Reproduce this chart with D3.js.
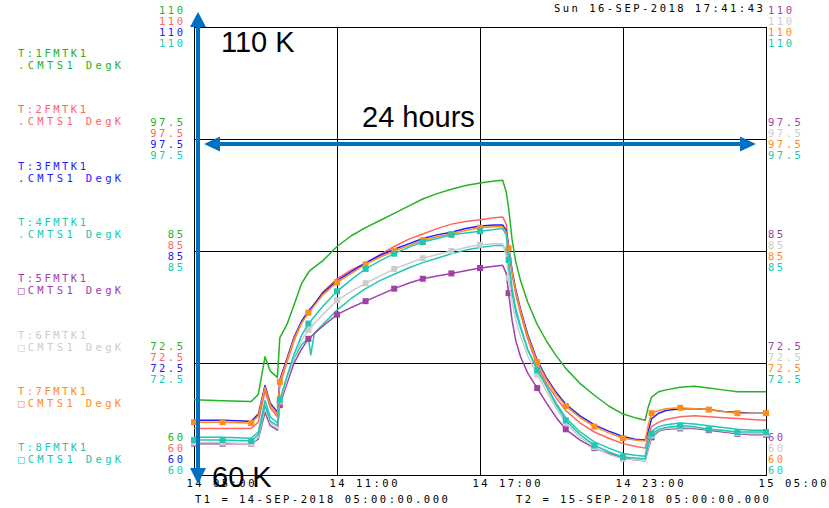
<!DOCTYPE html>
<html>
<head>
<meta charset="utf-8">
<script src="https://cdn.jsdelivr.net/npm/d3@7"></script>
<style>
  html, body { margin: 0; padding: 0; background: #fff; }
  svg { display: block; }
  .mono { font-family: "DejaVu Sans Mono", "Liberation Mono", monospace; font-size: 10.5px; }
  .note { font-family: "Liberation Sans", Arial, sans-serif; font-size: 29px; fill: #000; }
</style>
</head>
<body>
<svg id="chart" width="829" height="508"></svg>
<script>
// Sample times, hours after 14-SEP-2018 05:00
const hours = [0, 1.2, 2.4, 2.7, 2.98, 3.2, 3.5, 3.6, 3.9, 4.2, 4.5, 4.8, 4.9, 5.05, 5.4, 6.0, 6.6, 7.2, 7.8, 8.4,
  9.0, 9.6, 10.2, 10.8, 11.4, 12.0, 12.6, 12.95,
  13.1, 13.2, 13.35, 13.5, 13.7, 14.0, 14.4, 14.8, 15.2, 15.6, 16.2, 16.8, 17.4, 18.0, 18.5, 18.93,
  19.05, 19.2, 19.5, 19.8, 20.4, 21.0, 21.6, 22.2, 22.8, 23.4, 24.0];

// Channel temperatures, DegK
const ch1 = [68.4, 68.3, 68.2, 69.0, 73.2, 71.6, 70.9, 75.3, 76.8, 79.0, 81.3, 82.6, 82.9, 83.2, 83.9, 85.5, 86.7, 87.6, 88.4, 89.2,
  90.0, 90.8, 91.4, 91.9, 92.3, 92.6, 92.8, 92.9,
  91.6, 89.8, 86.2, 83.8, 81.7, 79.3, 76.8, 74.9, 73.3, 71.9, 70.2, 68.9, 67.7, 66.8, 66.4, 66.1,
  67.5, 68.7, 69.3, 69.5, 69.8, 69.9, 69.7, 69.5, 69.3, 69.3, 69.3];
const ch2 = [65.2, 65.2, 65.2, 65.9, 69.4, 67.5, 66.5, 70.0, 72.6, 75.0, 76.9, 78.2, 78.5, 79.0, 80.4, 81.9, 82.9, 83.6, 84.6, 85.5,
  86.3, 86.9, 87.5, 88.0, 88.3, 88.5, 88.7, 88.8,
  88.0, 85.5, 82.4, 80.2, 78.0, 75.2, 72.2, 70.2, 68.6, 67.2, 65.8, 64.8, 64.1, 63.5, 63.2, 63.0,
  64.3, 65.4, 65.9, 66.2, 66.5, 66.6, 66.5, 66.4, 66.3, 66.2, 66.1];
const ch3 = [66.1, 66.1, 66.0, 66.8, 70.0, 68.0, 67.0, 70.6, 73.0, 75.4, 77.1, 78.3, 78.6, 79.1, 80.3, 81.7, 82.7, 83.7, 84.5, 85.2,
  85.8, 86.4, 86.8, 87.1, 87.5, 87.8, 87.9, 87.9,
  87.3, 85.4, 82.8, 80.7, 78.5, 75.7, 72.8, 70.8, 69.2, 67.9, 66.6, 65.6, 64.9, 64.3, 64.0, 63.9,
  64.8, 66.3, 66.9, 67.2, 67.4, 67.4, 67.3, 67.1, 67.0, 66.9, 66.9];
const ch4 = [64.2, 64.2, 64.1, 64.8, 68.3, 66.5, 65.8, 68.0, 70.8, 73.0, 74.5, 75.3, 73.4, 75.8, 76.8, 78.4, 79.7, 80.8, 81.7, 82.4,
  83.1, 83.7, 84.2, 84.7, 85.1, 85.4, 85.6, 85.6,
  85.0, 83.0, 80.2, 78.2, 76.4, 74.0, 71.8, 69.9, 68.0, 66.4, 64.8, 63.7, 63.0, 62.4, 62.2, 62.1,
  63.8, 64.9, 65.4, 65.6, 65.8, 65.7, 65.5, 65.3, 65.1, 65.0, 65.0];
const ch5 = [63.5, 63.5, 63.5, 64.0, 67.0, 65.5, 65.0, 67.8, 70.2, 72.5, 74.0, 75.2, 75.4, 75.8, 76.6, 77.9, 78.7, 79.4, 80.1, 80.8,
  81.4, 81.9, 82.2, 82.5, 82.8, 83.1, 83.3, 83.4,
  82.5, 80.3, 77.2, 75.0, 73.2, 71.4, 69.7, 68.0, 66.4, 65.1, 63.9, 63.0, 62.4, 61.9, 61.7, 61.6,
  62.8, 64.2, 64.9, 65.1, 65.2, 65.2, 65.0, 64.8, 64.6, 64.5, 64.5];
const ch6 = [63.6, 63.6, 63.5, 64.2, 67.5, 65.8, 65.2, 68.2, 70.6, 73.2, 75.0, 76.2, 76.4, 76.9, 77.9, 79.5, 80.5, 81.4, 82.2, 83.0,
  83.6, 84.2, 84.6, 85.0, 85.4, 85.7, 85.8, 85.8,
  84.5, 82.0, 79.2, 77.3, 75.5, 73.3, 71.2, 69.3, 67.4, 65.8, 64.2, 63.1, 62.3, 61.8, 61.7, 61.6,
  63.0, 64.4, 65.0, 65.2, 65.3, 65.3, 65.1, 64.9, 64.7, 64.6, 64.6];
const ch7 = [65.9, 65.9, 65.8, 66.6, 69.8, 67.8, 66.8, 70.4, 72.8, 75.2, 76.9, 78.1, 78.4, 78.9, 80.1, 81.5, 82.5, 83.5, 84.3, 85.0,
  85.6, 86.2, 86.6, 86.9, 87.3, 87.6, 87.7, 87.7,
  87.1, 85.3, 82.6, 80.5, 78.3, 75.5, 72.6, 70.6, 69.0, 67.7, 66.4, 65.4, 64.7, 64.1, 63.9, 63.8,
  65.5, 66.9, 67.2, 67.4, 67.5, 67.4, 67.3, 67.1, 66.9, 66.9, 66.9];
const ch8 = [63.9, 63.9, 63.8, 64.5, 67.8, 66.0, 65.5, 68.4, 71.0, 73.5, 75.5, 76.9, 77.2, 77.7, 78.8, 80.5, 81.8, 83.0, 83.9, 84.7,
  85.4, 86.0, 86.4, 86.8, 87.0, 87.2, 87.4, 87.5,
  86.8, 84.0, 80.8, 78.6, 76.6, 74.0, 71.7, 69.8, 67.8, 66.1, 64.5, 63.3, 62.6, 62.0, 61.9, 61.8,
  63.3, 64.6, 65.1, 65.3, 65.5, 65.4, 65.1, 65.0, 64.8, 64.8, 64.8];

const channelNames = ["T:1FMTK1", "T:2FMTK1", "T:3FMTK1", "T:4FMTK1", "T:5FMTK1", "T:6FMTK1", "T:7FMTK1", "T:8FMTK1"];
const channelUnits = [".CMTS1  DegK", ".CMTS1  DegK", ".CMTS1  DegK", ".CMTS1  DegK",
  "\u25A1CMTS1  DegK", "\u25A1CMTS1  DegK", "\u25A1CMTS1  DegK", "\u25A1CMTS1  DegK"];
const channelValues = [ch1, ch2, ch3, ch4, ch5, ch6, ch7, ch8];
const channelMarked = [false, false, false, false, true, true, true, true];

const valueTicks = [60, 72.5, 85, 97.5, 110];
const valueTickLabels = ["60", "72.5", "85", "97.5", "110"];
const timeTicks = [0, 6, 12, 18, 24];
const timeTickLabels = ["14 05:00", "14 11:00", "14 17:00", "14 23:00", "15 05:00"];
const markerStep = 1.2;

const stampText = "Sun 16-SEP-2018 17:41:43";
const startText = "T1 = 14-SEP-2018 05:00:00.000";
const endText = "T2 = 15-SEP-2018 05:00:00.000";
const topNote = "110 K";
const spanNote = "24 hours";
const bottomNote = "60 K";

// Styling
const colors = ["#22b422", "#ff6464", "#2020ff", "#20c8b4", "#a040a8", "#cccccc", "#ff8c1a", "#20c8b4"];
const arrowColor = "#0070c0";
const ADV = 8.8; // character pitch of the terminal-style font

const svg = d3.select("#chart");
const x = d3.scaleLinear().domain([0, 24]).range([194, 766]);
const y = d3.scaleLinear().domain([60, 110]).range([475, 27]);

function mono(sel, str) {
  sel.attr("class", "mono")
    .attr("textLength", (str.length - 1) * ADV + 6.4)
    .attr("lengthAdjust", "spacing")
    .text(str);
  return sel;
}

// Grid and frame
const grid = svg.append("g");
grid.selectAll("line.v").data(timeTicks.slice(1, -1)).join("line")
  .attr("x1", d => Math.round(x(d)) + 0.5).attr("x2", d => Math.round(x(d)) + 0.5)
  .attr("y1", y(110)).attr("y2", y(60))
  .attr("stroke", "#000").attr("stroke-width", 1);
grid.selectAll("line.h").data(valueTicks.slice(1, -1)).join("line")
  .attr("y1", d => Math.round(y(d)) + 0.5).attr("y2", d => Math.round(y(d)) + 0.5)
  .attr("x1", x(0)).attr("x2", x(24))
  .attr("stroke", "#000").attr("stroke-width", 1);
grid.append("rect")
  .attr("x", x(0) + 0.5).attr("y", y(110) + 0.5)
  .attr("width", x(24) - x(0)).attr("height", y(60) - y(110))
  .attr("fill", "none").attr("stroke", "#000").attr("stroke-width", 1);

// Stacked scale labels, four channels per side
const stackOffsets = [-16.5, -5.5, 5.5, 16.5];
valueTicks.forEach((v, ti) => {
  const shift = v === 60 ? -21.5 : 0;
  for (let k = 0; k < 4; k++) {
    const cy = y(v) + stackOffsets[k] + shift + 3.7;
    mono(svg.append("text"), valueTickLabels[ti])
      .attr("x", 183).attr("y", cy).attr("text-anchor", "end").attr("fill", colors[k]);
    mono(svg.append("text"), valueTickLabels[ti])
      .attr("x", 768).attr("y", cy).attr("text-anchor", "start").attr("fill", colors[k + 4]);
  }
});

// Channel legend
channelNames.forEach((name, i) => {
  const base = 57 + i * 56.3;
  mono(svg.append("text"), name).attr("x", 18).attr("y", base).attr("fill", colors[i]);
  mono(svg.append("text"), channelUnits[i]).attr("x", 18).attr("y", base + 12).attr("fill", colors[i]);
});

// Time axis
const xAxis = d3.axisBottom(x).tickValues(timeTicks)
  .tickFormat((d, i) => timeTickLabels[i]).tickSize(0).tickPadding(0);
const ax = svg.append("g").attr("transform", `translate(0,${y(60)})`).call(xAxis);
ax.select(".domain").remove();
ax.selectAll(".tick text").each(function (d, i) {
  const t = d3.select(this);
  t.attr("text-anchor", "start").attr("x", -8).attr("y", 12).attr("dy", null)
    .attr("fill", "#000").style("font-family", null).style("font-size", null);
  mono(t, timeTickLabels[i]);
});
ax.attr("font-family", null).attr("font-size", null);

mono(svg.append("text"), stampText).attr("x", 554).attr("y", 12).attr("fill", "#000");
mono(svg.append("text"), startText).attr("x", 195).attr("y", 503).attr("fill", "#000");
mono(svg.append("text"), endText).attr("x", 516).attr("y", 503).attr("fill", "#000");

// Channel traces
const line = d3.line().x((d, i) => x(hours[i])).y(d => y(d));
const isMarker = h => Math.abs(h / markerStep - Math.round(h / markerStep)) < 1e-6;
channelValues.forEach((vals, c) => {
  const g = svg.append("g");
  g.append("path").datum(vals)
    .attr("d", line).attr("fill", "none")
    .attr("stroke", colors[c]).attr("stroke-width", 1.5).attr("stroke-linejoin", "round");
  if (channelMarked[c]) {
    const pts = vals.map((v, i) => ({ h: hours[i], v })).filter(p => isMarker(p.h));
    g.selectAll("rect").data(pts).join("rect")
      .attr("x", p => x(p.h) - 3).attr("y", p => y(p.v) - 3)
      .attr("width", 6).attr("height", 6).attr("fill", colors[c]);
  }
});

// Span annotations
const ann = svg.append("g").attr("fill", arrowColor);
const ax0 = x(0) + 4;
ann.append("rect").attr("x", ax0 - 2).attr("y", y(110)).attr("width", 4).attr("height", y(60) - y(110) - 6);
ann.append("path").attr("d", `M${ax0 - 8},${y(110)} L${ax0 + 8},${y(110)} L${ax0},${y(110) - 15} Z`);
ann.append("path").attr("d", `M${ax0 - 8},${y(60) - 7} L${ax0 + 8},${y(60) - 7} L${ax0},${y(60) + 9} Z`);
const hy = y(97.5) + 5;
ann.append("rect").attr("x", x(0) + 24).attr("y", hy - 2).attr("width", x(24) - x(0) - 48).attr("height", 4);
ann.append("path").attr("d", `M${x(0) + 26},${hy - 7.5} L${x(0) + 26},${hy + 7.5} L${x(0) + 10},${hy} Z`);
ann.append("path").attr("d", `M${x(24) - 26},${hy - 7.5} L${x(24) - 26},${hy + 7.5} L${x(24) - 10},${hy} Z`);

svg.append("text").attr("class", "note").attr("x", 221).attr("y", 52).text(topNote);
svg.append("text").attr("class", "note").attr("x", 362).attr("y", 127).text(spanNote);
svg.append("text").attr("class", "note").attr("x", 212).attr("y", 487).text(bottomNote);
</script>
</body>
</html>
